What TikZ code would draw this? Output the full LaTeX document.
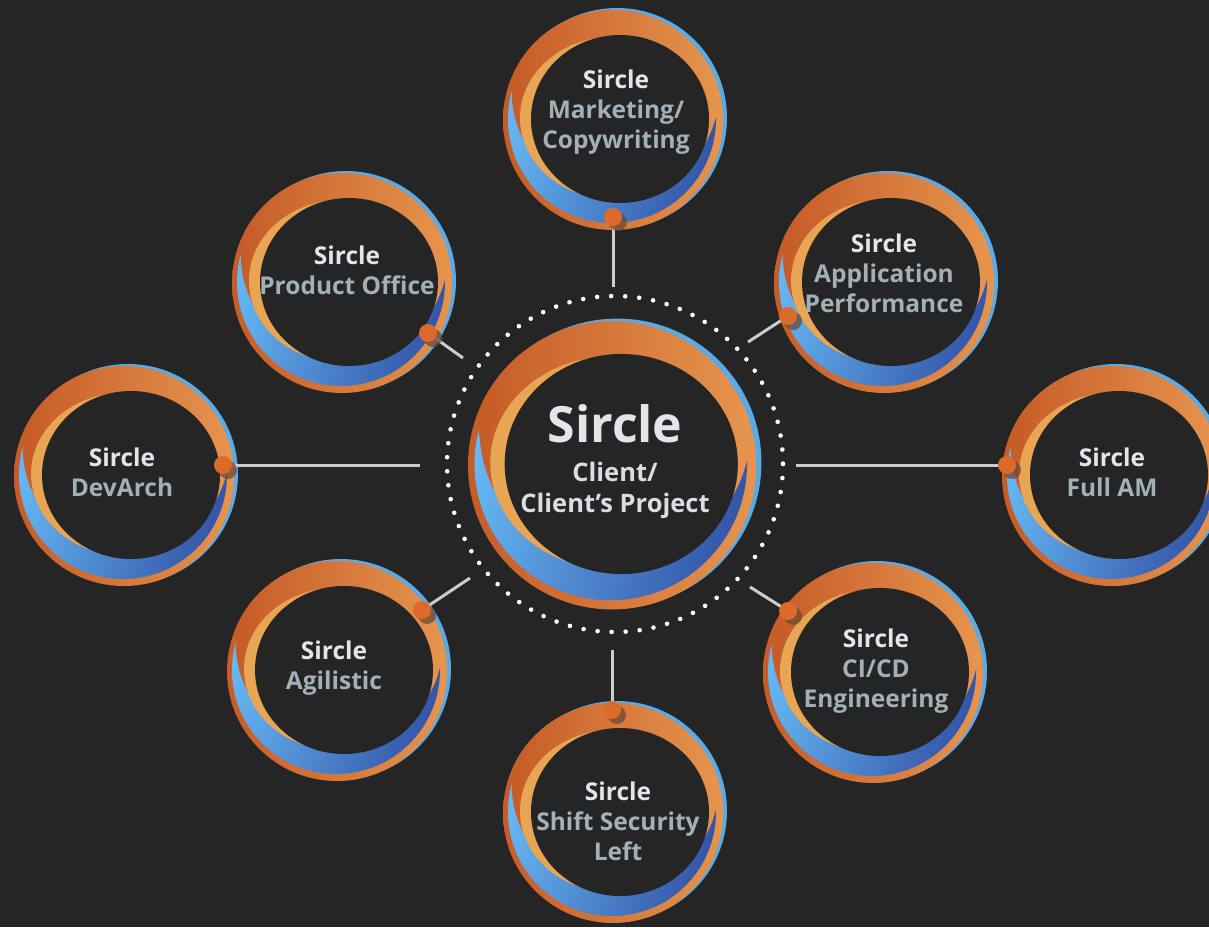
\documentclass[tikz,border=0pt]{standalone}
\usepackage{fontspec}
\setmainfont{Open Sans}
\usetikzlibrary{calc}
\definecolor{bg}{HTML}{252525}
\definecolor{orgD}{HTML}{C65C28}
\definecolor{orgL}{HTML}{E6944E}
\definecolor{yel}{HTML}{E8A553}
\definecolor{bluL}{HTML}{66B8F4}
\definecolor{bluD}{HTML}{3455A8}
\definecolor{rimb}{HTML}{5AAAE6}
\definecolor{titc}{HTML}{E2E6EA}
\definecolor{subc}{HTML}{A2B0B9}
\definecolor{linec}{HTML}{C9CDD1}
\definecolor{dotc}{HTML}{DC6B2B}
\definecolor{shadc}{HTML}{6A4A34}
\tikzset{
  lbl/.style={align=center, font=\fontsize{24.5}{30}\selectfont\bfseries, inner sep=0pt},
  conn/.style={draw=linec, line width=3pt},
  dotdot/.style={fill=dotc},
  dotshadow/.style={fill=shadc, fill opacity=0.75},
}
\newcommand\swring[4]{%
  \begin{scope}[shift={(#2,#3)}, scale=#4]
    \fill[rimb] (1,-1) circle (110);
    \shade[left color=orgD, right color=orgL] (-3,1) circle (110);
    \begin{scope}
      \clip (-3,1) circle (110);
      \shade[left color=bluL, right color=bluD, shading angle=75] (-4,0) circle (104);
      \shade[left color=orgD, right color=orgL] (-0.7,-27) circle (103.5);
    \end{scope}
    \fill[yel] (-4,-1) ellipse [x radius=92, y radius=81];
    \fill[bg] (4,0) ellipse [x radius=89, y radius=84];
  \end{scope}
  \coordinate (#1) at (#2,#3);
}
\newcommand\pin[3]{% name, dot, end
  \draw[conn] (#2) -- (#3);
  \fill[dotshadow] ($(#2)+(5,5)$) circle (9);
  \fill[dotdot] (#2) circle (9);
}
\begin{document}
\begin{tikzpicture}[x=1pt,y=-1pt]
\useasboundingbox (0,0) rectangle (1209,927);
\fill[bg] (0,0) rectangle (1209,927);
% dotted ring
\draw[white, line width=4.6pt, line cap=round, dash pattern=on 0pt off 14.07pt] (615,464) circle (168);
% rings
\swring{mk}{616}{119}{1}
\swring{po}{345}{282}{1}
\swring{ap}{887}{282}{1}
\swring{da}{127}{475}{1}
\swring{fa}{1115}{475}{1}
\swring{ag}{340}{670}{1}
\swring{cc}{876}{672}{1}
\swring{ss}{616}{812}{1}
\swring{ctr}{616}{464}{1.31}
% connector coordinates
\coordinate (mkd) at (613,217); \coordinate (mke) at (613,287);
\coordinate (pod) at (428,333); \coordinate (poe) at (463,358);
\coordinate (apd) at (788,316); \coordinate (ape) at (748,342);
\coordinate (dad) at (223,465); \coordinate (dae) at (420,465);
\coordinate (fad) at (1007,465); \coordinate (fae) at (796,465);
\coordinate (agd) at (422,610); \coordinate (age) at (470,578);
\coordinate (ccd) at (788,611); \coordinate (cce) at (750,587);
\coordinate (ssd) at (612,710); \coordinate (sse) at (612,650);
\pin{mkp}{mkd}{mke}
\pin{pop}{pod}{poe}
\pin{app}{apd}{ape}
\pin{dap}{dad}{dae}
\pin{fap}{fad}{fae}
\pin{agp}{agd}{age}
\pin{ccp}{ccd}{cce}
\pin{ssp}{ssd}{sse}
% labels
\node[lbl] (tmk) at (616,112.5) {\color{titc}Sircle\\\color{subc}Marketing/\\\color{subc}Copywriting};
\node[lbl] (tpo) at (347,270) {\color{titc}Sircle\\\color{subc}Product Office};
\node[lbl] (tap) at (884,273) {\color{titc}Sircle\\\color{subc}Application\\\color{subc}Performance};
\node[lbl] (tda) at (122,472) {\color{titc}Sircle\\\color{subc}DevArch};
\node[lbl] (tfa) at (1112,472) {\color{titc}Sircle\\\color{subc}Full AM};
\node[lbl] (tag) at (334,668) {\color{titc}Sircle\\\color{subc}Agilistic};
\node[lbl] (tcc) at (876,671) {\color{titc}Sircle\\\color{subc}CI/CD\\\color{subc}Engineering};
\node[lbl] (tss) at (618,821) {\color{titc}Sircle\\\color{subc}Shift Security\\\color{subc}Left};
\node[font=\fontsize{50}{56}\selectfont\bfseries, text=titc, inner sep=0pt] (tct) at (615,424) {Sircle};
\node[align=center, inner sep=0pt, font=\fontsize{25.5}{31}\selectfont\bfseries, text=titc!85!subc] (tcs) at (615,490) {Client/\\Client’s Project};
\end{tikzpicture}
\end{document}
